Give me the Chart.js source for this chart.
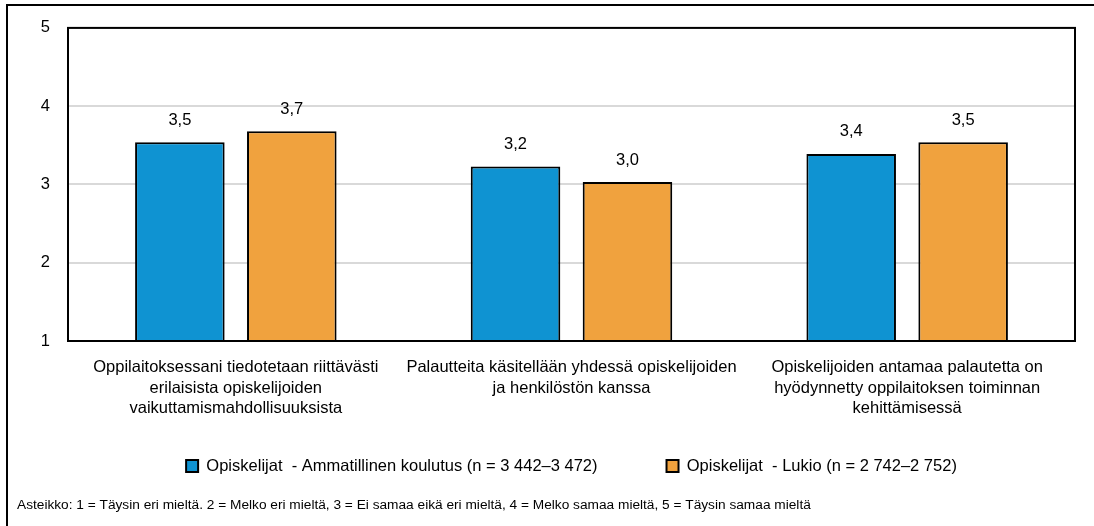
<!DOCTYPE html>
<html>
<head>
<meta charset="utf-8">
<script src="https://cdn.jsdelivr.net/npm/chart.js@4.4.0/dist/chart.umd.min.js"></script>
<style>
  html, body { margin: 0; padding: 0; background: #fff; overflow: hidden; }
  #wrap { width: 1094px; height: 526px; position: relative; }
</style>
</head>
<body>
<div id="wrap"><canvas id="chart" width="1094" height="526"></canvas></div>
<script>
const categories = [
  ["Oppilaitoksessani tiedotetaan riittävästi", "erilaisista opiskelijoiden", "vaikuttamismahdollisuuksista"],
  ["Palautteita käsitellään yhdessä opiskelijoiden", "ja henkilöstön kanssa"],
  ["Opiskelijoiden antamaa palautetta on", "hyödynnetty oppilaitoksen toiminnan", "kehittämisessä"],
];
const ammatillinen = [3.54, 3.23, 3.39];
const lukio = [3.68, 3.03, 3.54];
const seriesNames = [
  "Opiskelijat  - Ammatillinen koulutus (n = 3 442–3 472)",
  "Opiskelijat  - Lukio (n = 2 742–2 752)",
];
const yTicks = [1, 2, 3, 4, 5];
const footnote = "Asteikko: 1 = Täysin eri mieltä. 2 = Melko eri mieltä, 3 = Ei samaa eikä eri mieltä, 4 = Melko samaa mieltä, 5 = Täysin samaa mieltä";

const FONT = "'Liberation Sans', Arial, sans-serif";
const fmt = (v) => v.toFixed(1).replace(".", ",");

// outer frame, plot box, footnote
const framePlugin = {
  id: "frame",
  beforeDraw(chart) {
    const { ctx } = chart;
    ctx.save();
    ctx.fillStyle = "#fff";
    ctx.fillRect(0, 0, chart.width, chart.height);
    ctx.strokeStyle = "#000";
    ctx.lineWidth = 2;
    ctx.beginPath();
    ctx.moveTo(7, chart.height);
    ctx.lineTo(7, 5);
    ctx.lineTo(chart.width, 5);
    ctx.stroke();
    ctx.restore();
  },
  afterDatasetsDraw(chart) {
    const { ctx, chartArea: a } = chart;
    ctx.save();
    ctx.strokeStyle = "#000";
    ctx.lineWidth = 2;
    ctx.strokeRect(a.left, a.top, a.right - a.left, a.bottom - a.top);
    ctx.restore();
  },
  afterDraw(chart) {
    const { ctx } = chart;
    ctx.save();
    ctx.font = `13.7px ${FONT}`;
    ctx.fillStyle = "#000";
    ctx.textBaseline = "middle";
    ctx.fillText(footnote, 17, 505);
    ctx.restore();
  },
};

const valueLabels = {
  id: "valueLabels",
  afterDatasetsDraw(chart) {
    const { ctx } = chart;
    ctx.save();
    ctx.font = `16.5px ${FONT}`;
    ctx.fillStyle = "#000";
    ctx.textAlign = "center";
    ctx.textBaseline = "middle";
    chart.data.datasets.forEach((ds, i) => {
      chart.getDatasetMeta(i).data.forEach((bar, j) => {
        ctx.fillText(fmt(ds.data[j]), bar.x, bar.y - 22);
      });
    });
    ctx.restore();
  },
};

new Chart(document.getElementById("chart"), {
  type: "bar",
  data: {
    labels: categories,
    datasets: [
      { label: seriesNames[0], data: ammatillinen, backgroundColor: "#0f93d2", borderColor: "#000", borderWidth: 2 },
      { label: seriesNames[1], data: lukio, backgroundColor: "#f0a23e", borderColor: "#000", borderWidth: 2 },
    ],
  },
  options: {
    responsive: false,
    animation: false,
    devicePixelRatio: 1,
    categoryPercentage: 0.667,
    barPercentage: 0.8,
    layout: { padding: { top: 27, right: 19, left: 17, bottom: 41.75 } },
    scales: {
      y: {
        min: 1,
        max: 5,
        afterFit: (s) => { s.width = 51; },
        afterBuildTicks: (s) => { s.ticks = yTicks.map((v) => ({ value: v })); },
        ticks: { color: "#000", font: { family: FONT, size: 16.5 }, padding: 18 },
        grid: { color: "#d9d9d9", lineWidth: 2, drawTicks: false },
        border: { display: false },
      },
      x: {
        // mirror keeps the wrapped labels from being clipped to the short axis box
        afterFit: (s) => { s.height = 47.75; },
        ticks: { color: "#000", font: { family: FONT, size: 16.5, lineHeight: 1.25 }, mirror: true, padding: -37, maxRotation: 0, autoSkip: false },
        grid: { display: false, drawTicks: false },
        border: { display: false },
      },
    },
    plugins: {
      legend: {
        position: "bottom",
        fullSize: false,
        labels: {
          color: "#000",
          font: { family: FONT, size: 16.5 },
          boxWidth: 12,
          boxHeight: 12,
          padding: 69,
          generateLabels: (chart) => chart.data.datasets.map((ds, i) => ({
            text: ds.label,
            fillStyle: ds.backgroundColor,
            strokeStyle: "#000",
            lineWidth: 2,
            fontColor: "#000",
            datasetIndex: i,
          })),
        },
      },
      tooltip: { enabled: false },
    },
  },
  plugins: [framePlugin, valueLabels],
});
</script>
</body>
</html>
